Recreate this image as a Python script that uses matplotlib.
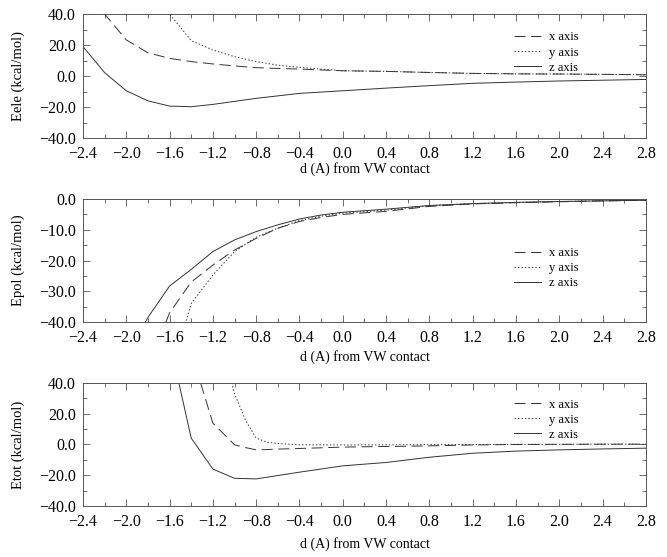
import numpy as np
import matplotlib
matplotlib.use('Agg')
import matplotlib.pyplot as plt
from matplotlib.ticker import MultipleLocator, FuncFormatter

plt.rcParams['font.family'] = ['Liberation Serif', 'DejaVu Serif']
plt.rcParams['lines.scale_dashes'] = False

# Eele
d_ele_x = [-2.4, -2.2, -2.0, -1.8, -1.6, -1.4, -1.2, -1.0, -0.8, -0.6, -0.4, -0.2, 0.0, 0.4, 0.8, 1.2, 1.6, 2.0, 2.4, 2.8]
ele_x = [60.0, 40.0, 23.3, 15.0, 11.4, 9.3, 7.8, 6.5, 5.4, 4.9, 4.5, 3.9, 3.4, 3.0, 2.3, 1.7, 1.4, 1.3, 1.1, 0.8]
d_ele_y = [-1.8, -1.6, -1.4, -1.2, -1.0, -0.8, -0.6, -0.4, -0.2, 0.0, 0.4, 0.8, 1.2, 1.6, 2.0, 2.4, 2.8]
ele_y = [70.0, 40.0, 22.8, 16.8, 12.5, 9.3, 7.0, 5.6, 4.5, 3.4, 3.0, 2.3, 1.7, 1.4, 1.3, 1.1, 0.8]
d_ele_z = [-2.4, -2.2, -2.0, -1.8, -1.6, -1.4, -1.2, -0.8, -0.4, 0.0, 0.4, 0.8, 1.2, 1.6, 2.0, 2.4, 2.8]
ele_z = [19.0, 2.2, -9.5, -16.0, -19.4, -19.8, -18.3, -14.4, -11.2, -9.5, -7.8, -6.2, -4.7, -3.9, -3.2, -2.7, -2.2]

# Epol
d_pol = [-2.0, -1.8, -1.6, -1.4, -1.2, -1.0, -0.8, -0.6, -0.4, -0.2, 0.0, 0.4, 0.8, 1.2, 1.6, 2.0, 2.4, 2.8]
pol_x = [-70.0, -55.0, -37.0, -27.0, -21.5, -16.6, -12.8, -9.5, -7.3, -6.0, -5.0, -4.0, -2.4, -1.6, -1.2, -0.9, -0.6, -0.4]
pol_y = [-90.0, -75.0, -58.0, -34.0, -24.7, -17.1, -12.4, -9.5, -7.0, -5.6, -4.6, -3.6, -2.2, -1.5, -1.1, -0.8, -0.6, -0.4]
pol_z = [-52.0, -38.5, -28.3, -22.9, -17.1, -13.3, -10.6, -8.4, -6.5, -5.2, -4.3, -3.3, -2.1, -1.5, -1.1, -0.8, -0.6, -0.4]

# Etot
d_tot = [-1.6, -1.4, -1.2, -1.0, -0.9, -0.8, -0.7, -0.6, -0.4, 0.0, 0.4, 0.8, 1.2, 1.6, 2.0, 2.4, 2.8]
tot_x = [90.0, 60.0, 13.9, -0.2, -2.0, -3.5, -3.3, -3.0, -2.6, -1.7, -1.3, -0.9, -0.3, 0.0, 0.1, 0.2, 0.2]
tot_y = [200.0, 150.0, 90.0, 33.0, 16.0, 4.1, 1.5, 0.6, -0.2, -0.3, -0.2, -0.1, 0.0, 0.1, 0.1, 0.2, 0.2]
d_tot_z = [-1.6, -1.4, -1.2, -1.0, -0.8, -0.4, 0.0, 0.4, 0.8, 1.2, 1.6, 2.0, 2.4, 2.8]
tot_z = [67.0, 4.1, -16.0, -22.0, -22.4, -18.0, -13.9, -11.7, -8.3, -5.7, -4.3, -3.5, -2.9, -2.4]

labels = ['x axis', 'y axis', 'z axis']
col = '#333333'

fig = plt.figure(figsize=(6.67, 5.57), dpi=100)
boxes = [[0.1244, 0.7522, 0.844, 0.2226],
         [0.1244, 0.4219, 0.844, 0.2208],
         [0.1244, 0.0916, 0.844, 0.2208]]

def fmt(v, pos):
    s = '%.1f' % v
    if s == '-0.0':
        s = '0.0'
    return s.replace('-', '\u2212')

def panel(box, series, ylab, ylim, ymaj, ymin, leg_y, xpad):
    ax = fig.add_axes(box)
    styles = [dict(dashes=(8, 4)), dict(dashes=(1, 1.5)), dict(linestyle='-')]
    hs = []
    for (dx, dy), st, lab in zip(series, styles, labels):
        h, = ax.plot(dx, dy, color=col, lw=0.7, label=lab, **st)
        hs.append(h)
    ax.set_xlim(-2.4, 2.8)
    ax.set_ylim(*ylim)
    ax.xaxis.set_major_locator(MultipleLocator(0.4))
    ax.xaxis.set_minor_locator(MultipleLocator(0.2))
    ax.yaxis.set_major_locator(MultipleLocator(ymaj))
    ax.yaxis.set_minor_locator(MultipleLocator(ymin))
    ax.xaxis.set_major_formatter(FuncFormatter(fmt))
    ax.yaxis.set_major_formatter(FuncFormatter(fmt))
    ax.tick_params(which='both', direction='in', top=True, right=True, width=0.6, color='#555555')
    ax.tick_params(which='major', length=5, labelsize=11.5)
    ax.tick_params(axis='x', which='major', pad=6)
    ax.tick_params(axis='y', which='major', pad=5)
    ax.tick_params(which='minor', length=3)
    for s in ax.spines.values():
        s.set_linewidth(0.7)
        s.set_color('#555555')
    ax.set_xlabel('d (A) from VW contact', fontsize=10, labelpad=xpad)
    ax.set_ylabel(ylab, fontsize=10.5, labelpad=10)
    ax.legend(handles=hs, loc='upper left', bbox_to_anchor=(0.745, leg_y), frameon=False,
              fontsize=9, handlelength=2.2, handletextpad=0.6, labelspacing=0.25)
    return ax

panel(boxes[0], [(d_ele_x, ele_x), (d_ele_y, ele_y), (d_ele_z, ele_z)],
      'Eele (kcal/mol)', (-40, 40), 20, 10, 0.95, 0)
panel(boxes[1], [(d_pol, pol_x), (d_pol, pol_y), (d_pol, pol_z)],
      'Epol (kcal/mol)', (-40, 0), 10, 5, 0.7, 2.5)
panel(boxes[2], [(d_tot, tot_x), (d_tot, tot_y), (d_tot_z, tot_z)],
      'Etot (kcal/mol)', (-40, 40), 20, 10, 0.965, 5)

fig.savefig('out.png', dpi=100)
